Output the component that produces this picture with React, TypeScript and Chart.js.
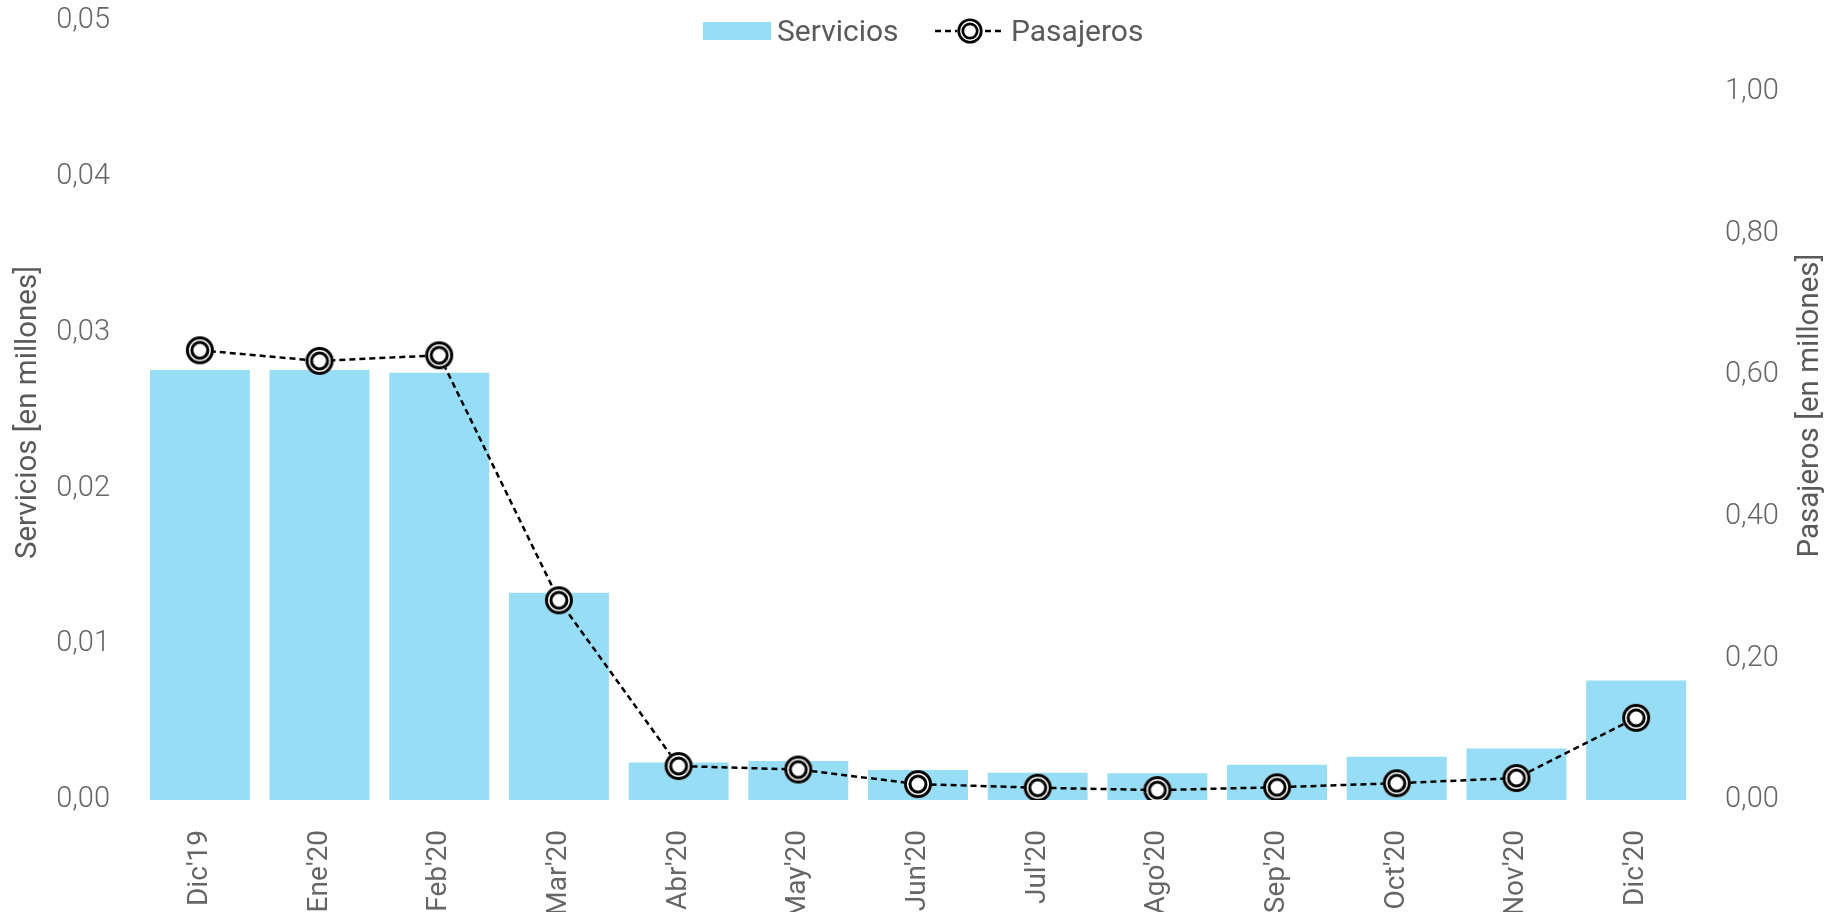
import React, { useEffect, useRef } from 'react';
import { Chart, registerables } from 'chart.js';

Chart.register(...registerables);

const categories = ["Dic'19", "Ene'20", "Feb'20", "Mar'20", "Abr'20", "May'20", "Jun'20", "Jul'20", "Ago'20", "Sep'20", "Oct'20", "Nov'20", "Dic'20"];
const servicios = [0.0276, 0.0276, 0.02743, 0.01331, 0.0024, 0.0025, 0.00193, 0.00175, 0.00171, 0.00227, 0.00278, 0.0033, 0.00767];
const pasajeros = [0.635, 0.62, 0.628, 0.282, 0.048, 0.043, 0.0225, 0.0173, 0.014, 0.018, 0.0237, 0.031, 0.116];
const leftTitle = 'Servicios [en millones]';
const rightTitle = 'Pasajeros [en millones]';
const seriesNames = ['Servicios', 'Pasajeros'];

const BAR_COLOR = 'rgb(150, 221, 245)';
const TEXT_COLOR = '#5a5a5a';
const TICK_COLOR = '#666666';

function drawMarker(ctx: CanvasRenderingContext2D, x: number, y: number, s: number) {
  ctx.save();
  ctx.fillStyle = '#ffffff';
  ctx.beginPath();
  ctx.arc(x, y, 14 * s, 0, Math.PI * 2);
  ctx.fill();
  ctx.strokeStyle = '#000000';
  ctx.lineWidth = 3 * s;
  ctx.beginPath();
  ctx.arc(x, y, 12.5 * s, 0, Math.PI * 2);
  ctx.stroke();
  ctx.beginPath();
  ctx.arc(x, y, 8 * s, 0, Math.PI * 2);
  ctx.stroke();
  ctx.restore();
}

function makeMarker(): HTMLCanvasElement {
  const c = document.createElement('canvas');
  c.width = 30;
  c.height = 30;
  const ctx = c.getContext('2d')!;
  drawMarker(ctx, 15, 15, 1);
  return c;
}

const overlayPlugin = {
  id: 'overlay',
  afterDraw(chart: any) {
    const ctx: CanvasRenderingContext2D = chart.ctx;
    const area = chart.chartArea;
    const midY = (area.top + area.bottom) / 2;
    ctx.save();
    // axis titles
    ctx.fillStyle = TEXT_COLOR;
    ctx.font = '400 29.5px Roboto';
    ctx.textAlign = 'center';
    ctx.textBaseline = 'middle';
    ctx.save();
    ctx.translate(29, midY + 2);
    ctx.rotate(-Math.PI / 2);
    ctx.fillText(leftTitle, 0, 0);
    ctx.restore();
    ctx.save();
    ctx.translate(1811, midY - 5);
    ctx.rotate(-Math.PI / 2);
    ctx.fillText(rightTitle, 0, 0);
    ctx.restore();

    // legend
    ctx.font = '400 30px Roboto';
    ctx.fillStyle = BAR_COLOR;
    ctx.fillRect(703, 22, 68, 18);
    ctx.fillStyle = TEXT_COLOR;
    ctx.textAlign = 'left';
    ctx.textBaseline = 'alphabetic';
    ctx.fillText(seriesNames[0], 777, 41);
    ctx.strokeStyle = '#000';
    ctx.lineWidth = 2.5;
    ctx.setLineDash([6, 4]);
    ctx.beginPath();
    ctx.moveTo(935, 31);
    ctx.lineTo(1005, 31);
    ctx.stroke();
    ctx.setLineDash([]);
    drawMarker(ctx, 970, 31, 0.9);
    ctx.fillStyle = TEXT_COLOR;
    ctx.fillText(seriesNames[1], 1011, 41);
    ctx.restore();
  },
};

export default function App() {
  const ref = useRef<HTMLCanvasElement | null>(null);

  useEffect(() => {
    let chart: Chart | null = null;
    let cancelled = false;
    const build = () => {
      if (cancelled || !ref.current) return;
      const marker = makeMarker();
      chart = new Chart(ref.current, {
        type: 'bar',
        data: {
          labels: categories,
          datasets: [
            {
              type: 'line',
              label: seriesNames[1],
              data: pasajeros,
              yAxisID: 'y1',
              borderColor: '#000000',
              borderWidth: 2.5,
              borderDash: [6, 4],
              pointStyle: marker as any,
              pointRadius: 14,
              fill: false,
              tension: 0,
              order: 0,
            } as any,
            {
              type: 'bar',
              label: seriesNames[0],
              data: servicios,
              yAxisID: 'y',
              backgroundColor: BAR_COLOR,
              borderWidth: 0,
              categoryPercentage: 1,
              barPercentage: 0.835,
              order: 1,
            },
          ],
        },
        options: {
          responsive: false,
          devicePixelRatio: 1,
          animation: false,
          layout: { padding: { top: 21, left: 0, right: 0, bottom: 0 } },
          plugins: {
            legend: { display: false },
            title: { display: false },
            tooltip: { enabled: false },
          },
          scales: {
            x: {
              grid: { display: false },
              border: { display: false },
              ticks: {
                color: TICK_COLOR,
                font: { family: 'Roboto', size: 28, weight: 400 as any },
                maxRotation: 90,
                minRotation: 90,
                padding: 22,
                autoSkip: false,
              },
              afterFit: (s: any) => {
                s.height = 112;
                s.paddingLeft = 0;
                s.paddingRight = 0;
              },
            },
            y: {
              position: 'left',
              min: 0,
              max: 0.05,
              grid: { display: false },
              border: { display: false },
              ticks: {
                stepSize: 0.01,
                color: TICK_COLOR,
                font: { family: 'Roboto', size: 29, weight: 300 as any },
                padding: 22,
                callback: (v: any) => Number(v).toFixed(2).replace('.', ','),
              },
              afterFit: (s: any) => {
                s.width = 140;
                s.paddingTop = 0;
                s.paddingBottom = 0;
              },
            },
            y1: {
              position: 'right',
              min: 0,
              max: 1.1,
              grid: { display: false },
              border: { display: false },
              ticks: {
                stepSize: 0.2,
                color: TICK_COLOR,
                font: { family: 'Roboto', size: 29, weight: 300 as any },
                padding: 21,
                callback: (v: any) => Number(v).toFixed(2).replace('.', ','),
              },
              afterBuildTicks: (s: any) => {
                s.ticks = s.ticks.filter((t: any) => t.value <= 1.0001);
              },
              afterFit: (s: any) => {
                s.width = 148;
                s.paddingTop = 0;
                s.paddingBottom = 0;
              },
            },
          },
        },
        plugins: [overlayPlugin],
      } as any);
    };
    const fonts = (document as any).fonts;
    if (fonts && fonts.load) {
      Promise.all([fonts.load('300 29px Roboto'), fonts.load('400 28px Roboto')])
        .catch(() => {})
        .then(build);
    } else {
      build();
    }
    return () => {
      cancelled = true;
      if (chart) chart.destroy();
    };
  }, []);

  return (
    <div style={{ position: 'fixed', left: 0, top: 0, width: 1844, height: 912, background: '#fff' }}>
      <canvas ref={ref} width={1844} height={912} style={{ display: 'block', width: 1844, height: 912 }} />
    </div>
  );
}
